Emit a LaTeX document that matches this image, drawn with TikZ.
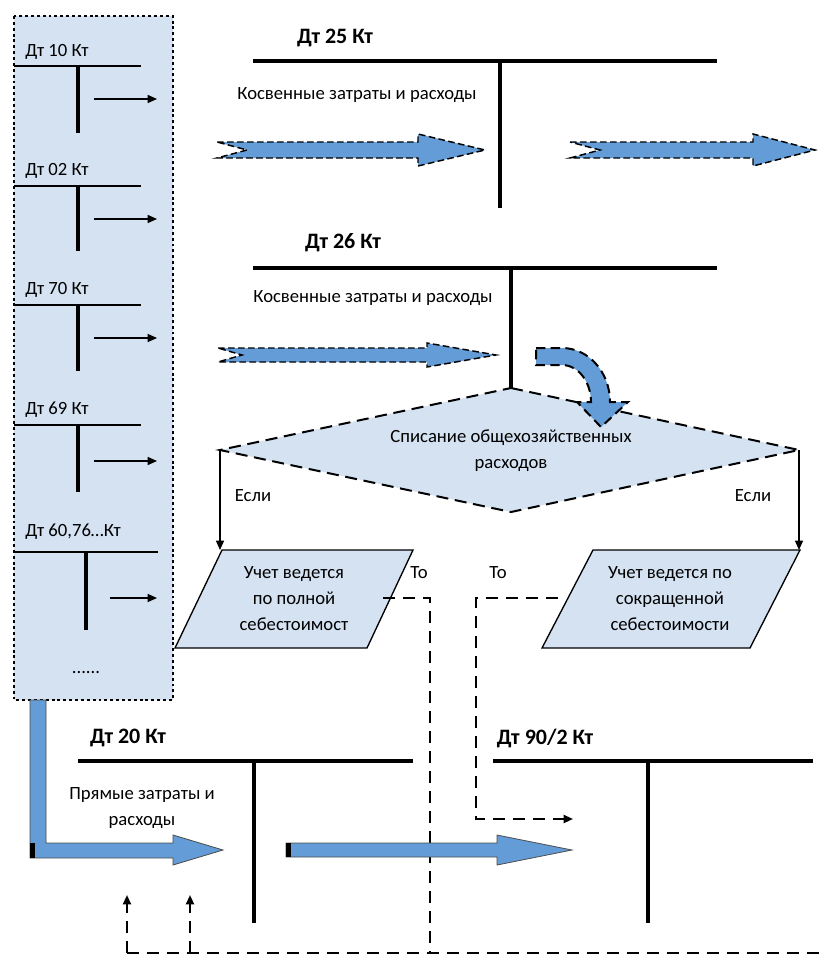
\documentclass[tikz,border=0pt]{standalone}
\usepackage{fontspec}
\setmainfont{Carlito}
\usetikzlibrary{arrows.meta}
\definecolor{lightb}{RGB}{213,226,242}
\definecolor{arrb}{RGB}{99,156,214}
\begin{document}
\begin{tikzpicture}[x=0.75pt,y=-0.75pt,
 txt/.style={font=\fontsize{14}{19.5}\selectfont, inner sep=0pt, align=center},
 ttl/.style={font=\fontsize{16.5}{20}\selectfont\bfseries, inner sep=0pt},
 tbar/.style={line width=2.7pt},
 pbar/.style={line width=1.5pt},
 pvert/.style={line width=3pt},
 thinarrow/.style={line width=1.1pt,-{Triangle[length=7pt,width=6pt]}},
 dashline/.style={line width=1.5pt, dash pattern=on 9pt off 6pt},
 dasharrow/.style={dashline,-{Triangle[length=7pt,width=6pt]}},
 ifarrow/.style={line width=1pt,-{Triangle[length=7pt,width=6pt]}},
 bluearrow/.style={fill=arrb, draw=black!70, line width=0.6pt},
 dashedarrow/.style={fill=arrb, draw=black, line width=1.1pt, dash pattern=on 5pt off 2.5pt},
 shapefill/.style={fill=lightb, draw=black, line width=1pt},
 dshape/.style={fill=lightb, draw=black, line width=1.5pt, dash pattern=on 9pt off 5pt},
]
\useasboundingbox (0,0) rectangle (824,956);

% ---------- left panel ----------
\draw[fill=lightb, line width=2.2pt, dash pattern=on 2.2pt off 2.2pt] (14,16) rectangle (173,700);

\foreach \n/\ly/\hy/\vx/\ve/\ay/\ax/\he/\lab in {
  1/52/66/78/133/99/94/141/{Дт 10 Кт},
  2/171/186/78/251/219/94/141/{Дт 02 Кт},
  3/290/305/78/371/338/94/141/{Дт 70 Кт},
  4/410/425/78/492/461/94/141/{Дт 69 Кт},
  5/532/552/86/630/598/110/158/{Дт 60,76…Кт}}{
  \node[txt, anchor=west] (lab\n) at (25,\ly) {\lab};
  \coordinate (hl\n) at (14,\hy);
  \coordinate (hr\n) at (\he,\hy);
  \coordinate (vt\n) at (\vx,\hy);
  \coordinate (vb\n) at (\vx,\ve);
  \coordinate (as\n) at (\ax,\ay);
  \coordinate (ae\n) at (157,\ay);
  \draw[pbar] (hl\n) -- (hr\n);
  \draw[pvert] (vt\n) -- (vb\n);
  \draw[thinarrow] (as\n) -- (ae\n);
}
\node[txt] (dots) at (86,673) {......};

% ---------- Dt 25 ----------
\node[ttl] (t25) at (335,38) {Дт 25 Кт};
\coordinate (a25l) at (253,61);
\coordinate (a25r) at (717,61);
\coordinate (a25t) at (500,61);
\coordinate (a25b) at (500,208);
\draw[tbar] (a25l) -- (a25r);
\draw[tbar] (a25t) -- (a25b);
\node[txt] (k25) at (357,95) {Косвенные затраты и расходы};

\draw[dashedarrow] (217,142) -- (418,142) -- (418,134) -- (485,150) -- (418,166) -- (418,158) -- (217,158) -- (247,150) -- cycle;
\draw[dashedarrow] (570,142) -- (753,142) -- (753,134) -- (815,150) -- (753,166) -- (753,158) -- (570,158) -- (600,150) -- cycle;

% ---------- Dt 26 ----------
\node[ttl] (t26) at (343,243) {Дт 26 Кт};
\coordinate (a26l) at (253,268);
\coordinate (a26r) at (717,268);
\coordinate (a26t) at (511,268);
\coordinate (a26b) at (511,388);
\draw[tbar] (a26l) -- (a26r);
\node[txt] (k26) at (373,298) {Косвенные затраты и расходы};

\draw[dashedarrow] (218,348) -- (427,348) -- (427,343) -- (496,355) -- (427,367) -- (427,362) -- (218,362) -- (242,355) -- cycle;

% ---------- diamond ----------
\coordinate (dtop) at (511,388);
\coordinate (dr) at (799,450);
\coordinate (dbot) at (511,512);
\coordinate (dl) at (220,450);
\draw[dshape] (dtop) -- (dr) -- (dbot) -- (dl) -- cycle;
\draw[line width=2.7pt] (a26t) -- (a26b);
\node[txt] (dtext) at (511,451) {Списание общехозяйственных\\расходов};

% curved arrow
\draw[dashedarrow, line width=1.5pt, dash pattern=on 7pt off 4pt]
  (536,348) -- (562,348) arc[start angle=-90, end angle=0, x radius=48, y radius=54]
  -- (628,402) -- (601,427) -- (577,402) -- (591,402)
  arc[start angle=0, end angle=-90, x radius=29, y radius=37] -- (536,365) -- cycle;

% ---------- branches ----------
\coordinate (pl1) at (220,550);
\coordinate (pr1) at (799,550);
\draw[ifarrow] (dl) -- (pl1);
\draw[ifarrow] (dr) -- (pr1);
\node[txt] (if1) at (253,496) {Если};
\node[txt] (if2) at (753,496) {Если};

\draw[shapefill] (222,550) -- (413,550) -- (367,648) -- (175,648) -- cycle;
\node[txt] (p1) at (294,599) {Учет ведется\\по полной\\себестоимост};
\draw[shapefill] (593,550) -- (800,550) -- (750,648) -- (542,648) -- cycle;
\node[txt] (p2) at (670,599) {Учет ведется по\\сокращенной\\себестоимости};

\node[txt] (to1) at (419,573) {То};
\node[txt] (to2) at (498,573) {То};

% ---------- dashed connectors ----------
\coordinate (d1a) at (383,598);
\coordinate (d1b) at (430,598);
\coordinate (d1c) at (430,953);
\draw[dashline] (d1a) -- (d1b) -- (d1c);
\coordinate (bl) at (127,953);
\coordinate (bm) at (190,953);
\coordinate (br) at (824,953);
\coordinate (u1) at (127,895);
\coordinate (u2) at (190,895);
\draw[dashline] (bl) -- (br);
\draw[dasharrow] (bl) -- (u1);
\draw[dasharrow] (bm) -- (u2);
\coordinate (d2a) at (558,598);
\coordinate (d2b) at (476,598);
\coordinate (d2c) at (476,819);
\coordinate (d2d) at (573,819);
\draw[dasharrow] (d2a) -- (d2b) -- (d2c) -- (d2d);

% ---------- Dt 20 ----------
\node[ttl] (t20) at (128,738) {Дт 20 Кт};
\coordinate (a20l) at (78,761);
\coordinate (a20r) at (413,761);
\coordinate (a20t) at (254,761);
\coordinate (a20b) at (254,923);
\draw[tbar] (a20l) -- (a20r);
\draw[tbar] (a20t) -- (a20b);
\node[txt] (pr) at (142,808) {Прямые затраты и\\расходы};

% ---------- Dt 90/2 ----------
\node[ttl] (t90) at (545,738) {Дт 90/2 Кт};
\coordinate (a90l) at (493,761);
\coordinate (a90r) at (813,761);
\coordinate (a90t) at (648,761);
\coordinate (a90b) at (648,923);
\draw[tbar] (a90l) -- (a90r);
\draw[tbar] (a90t) -- (a90b);

% ---------- blue arrows ----------
\draw[bluearrow] (30,700) -- (46,700) -- (46,843) -- (173,843) -- (173,835) -- (223,850) -- (173,865) -- (173,858) -- (30,858) -- cycle;
\fill[black] (30,843) rectangle (35,858);
\draw[bluearrow] (286,843) -- (497,843) -- (497,835) -- (572,850) -- (497,865) -- (497,857) -- (286,857) -- cycle;
\fill[black] (286,843) rectangle (291,857);
\end{tikzpicture}
\end{document}
